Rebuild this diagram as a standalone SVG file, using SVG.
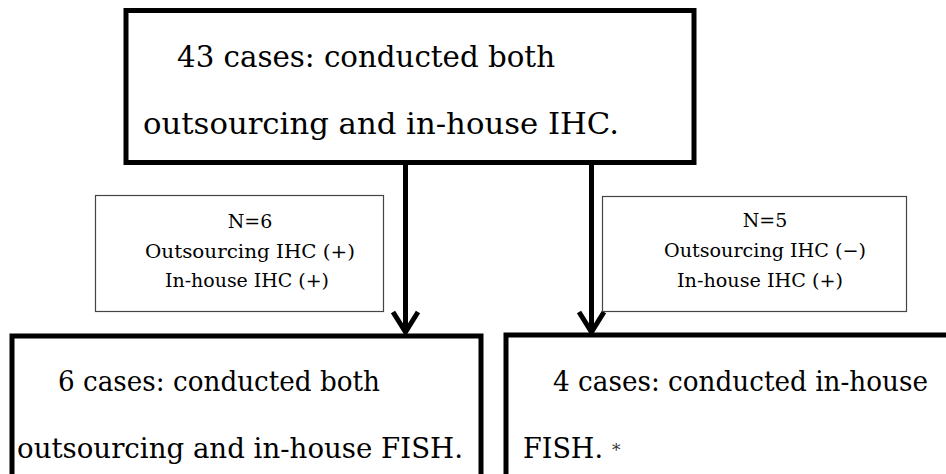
<svg xmlns="http://www.w3.org/2000/svg" width="946" height="474" viewBox="0 0 946 474">
  <style>
    .box { fill: #fff; stroke: #000; stroke-width: 5; }
    .lbl { fill: #fff; stroke: #444; stroke-width: 1.2; }
    .big { font-family: "DejaVu Serif", "Liberation Serif", serif; font-size: 29px; fill: #000; }
    .mid { font-family: "DejaVu Serif", "Liberation Serif", serif; font-size: 28px; fill: #000; }
    .sm { font-family: "DejaVu Serif", "Liberation Serif", serif; font-size: 19px; fill: #000; }
    .ast { font-family: "DejaVu Serif", "Liberation Serif", serif; font-size: 17px; fill: #333; }
    .conn { fill: none; stroke: #000; stroke-width: 5; }
  </style>
  <rect width="946" height="474" fill="#fff"/>

  <g id="top">
    <rect class="box" x="126" y="10.5" width="568" height="152"/>
    <text class="big" x="177" y="67" textLength="378" lengthAdjust="spacingAndGlyphs">43 cases: conducted both</text>
    <text class="big" x="143" y="134" textLength="476" lengthAdjust="spacingAndGlyphs">outsourcing and in-house IHC.</text>
  </g>

  <g id="connectors">
    <line class="conn" x1="405.5" y1="163" x2="405.5" y2="330"/>
    <polyline class="conn" points="393,312 405.5,332 418,312"/>
    <line class="conn" x1="591.5" y1="163" x2="591.5" y2="330"/>
    <polyline class="conn" points="579,312 591.5,332 604,312"/>
  </g>

  <g id="label-left">
    <rect class="lbl" x="95.5" y="195.5" width="288" height="116"/>
    <text class="sm" x="250" y="228" text-anchor="middle">N=6</text>
    <text class="sm" x="145" y="258" textLength="210" lengthAdjust="spacingAndGlyphs">Outsourcing IHC (+)</text>
    <text class="sm" x="165" y="287" textLength="164" lengthAdjust="spacingAndGlyphs">In-house IHC (+)</text>
  </g>

  <g id="label-right">
    <rect class="lbl" x="602.5" y="196.5" width="304" height="115"/>
    <text class="sm" x="765" y="227" text-anchor="middle">N=5</text>
    <text class="sm" x="664" y="257" textLength="202" lengthAdjust="spacingAndGlyphs">Outsourcing IHC (−)</text>
    <text class="sm" x="677" y="287" textLength="166" lengthAdjust="spacingAndGlyphs">In-house IHC (+)</text>
  </g>

  <g id="bottom-left">
    <rect class="box" x="12" y="336" width="469" height="160"/>
    <text class="mid" x="58" y="391" textLength="322" lengthAdjust="spacingAndGlyphs">6 cases: conducted both</text>
    <text class="mid" x="17" y="458" textLength="446" lengthAdjust="spacingAndGlyphs">outsourcing and in-house FISH.</text>
  </g>

  <g id="bottom-right">
    <rect class="box" x="506" y="335" width="460" height="160"/>
    <text class="mid" x="553" y="391" textLength="375" lengthAdjust="spacingAndGlyphs">4 cases: conducted in-house</text>
    <text class="mid" x="523" y="458" textLength="80" lengthAdjust="spacingAndGlyphs">FISH.</text>
    <text class="ast" x="612" y="456">*</text>
  </g>
</svg>
